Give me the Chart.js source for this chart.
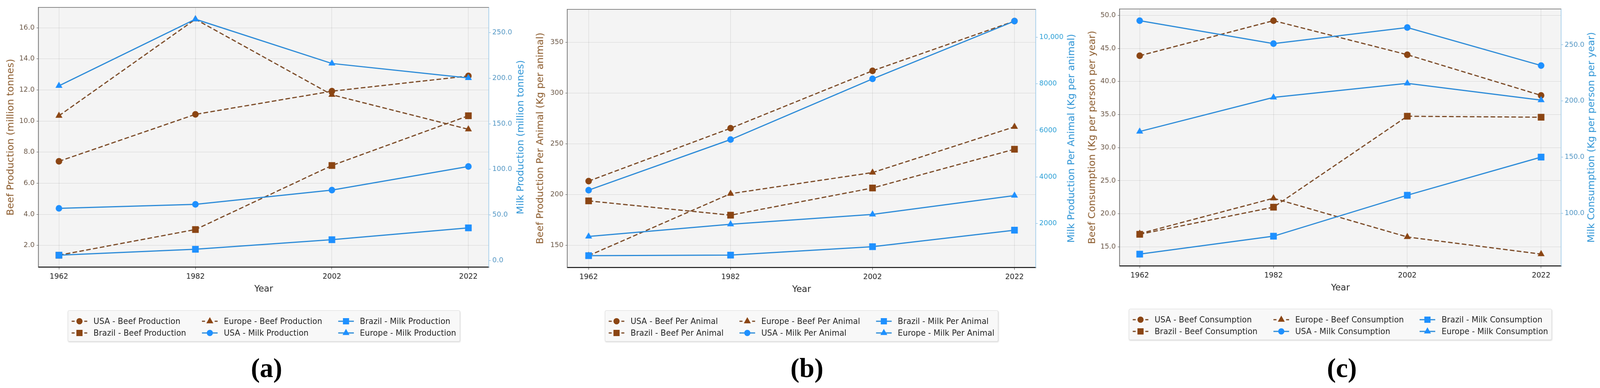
<!DOCTYPE html>
<html>

<head>
    <meta charset="utf-8">
    <title>Beef and milk: production, per animal, consumption</title>
    <script src="https://cdn.jsdelivr.net/npm/chart.js"></script>
    <style>
        html, body { margin: 0; overflow: hidden; background: #fff; font-family: "DejaVu Sans", sans-serif; }
        #page { position: absolute; left: 0; top: 0; width: 4160px; height: 994px; transform-origin: 0 0; }
        canvas { position: absolute; top: 0; }
        .legend {
            position: absolute; display: grid; grid-auto-flow: column;
            grid-template-rows: 30px 30px; column-gap: 41px;
            padding: 12px 9px 6px 9px; background: #f8f8f8;
            border: 1px solid #d9d9d9; border-radius: 4px;
            box-shadow: 1px 2px 3px rgba(0, 0, 0, 0.13);
            transform: translateX(-50%); font-size: 20.6px; color: #262626;
        }
        .item { display: flex; align-items: center; height: 30px; white-space: nowrap; }
        .item svg { margin-right: 16px; flex: none; }
        .cap { position: absolute; top: 903px; height: 70px; line-height: 70px; font: bold 70px "Liberation Serif", serif; color: #000; transform: translateX(-50%); }
    </style>
</head>

<body>
    <div id="page">
        <canvas id="chartA" width="1380" height="760" style="left:0px"></canvas>
        <canvas id="chartB" width="1435" height="760" style="left:1380px"></canvas>
        <canvas id="chartC" width="1345" height="760" style="left:2815px"></canvas>

        <div class="legend" id="legendA" style="left:686px; top:795px"></div>
        <div class="legend" id="legendB" style="left:2084px; top:795px"></div>
        <div class="legend" id="legendC" style="left:3485px; top:791px"></div>

        <div class="cap" style="left:693px">(a)</div>
        <div class="cap" style="left:2098px">(b)</div>
        <div class="cap" style="left:3489px">(c)</div>
    </div>

    <script type="text/javascript">
        const years = [1962, 1982, 2002, 2022];

        // (a) production, beef in million tonnes (left), milk in million tonnes (right)
        const usaBeefProduction = [7.41, 10.43, 11.92, 12.90];
        const brazilBeefProduction = [1.37, 3.02, 7.14, 10.34];
        const europeBeefProduction = [10.34, 16.55, 11.69, 9.47];
        const usaMilkProduction = [57.1, 61.5, 77.2, 103.1];
        const brazilMilkProduction = [5.7, 12.2, 22.7, 35.7];
        const europeMilkProduction = [191.7, 264.8, 216.2, 200.3];
        const productionBeefTicks = [2, 4, 6, 8, 10, 12, 14, 16];
        const productionMilkTicks = [0, 50, 100, 150, 200, 250];

        // (b) per animal, beef kg (left), milk kg (right)
        const usaBeefPerAnimal = [213.3, 265.4, 322.0, 371.0];
        const brazilBeefPerAnimal = [193.8, 179.7, 206.5, 244.7];
        const europeBeefPerAnimal = [139.8, 200.9, 221.7, 266.8];
        const usaMilkPerAnimal = [3427, 5603, 8211, 10696];
        const brazilMilkPerAnimal = [611, 634, 997, 1707];
        const europeMilkPerAnimal = [1437, 1961, 2386, 3196];
        const perAnimalBeefTicks = [150, 200, 250, 300, 350];
        const perAnimalMilkTicks = [2000, 4000, 6000, 8000, 10000];

        // (c) consumption, kg per person per year
        const usaBeefConsumption = [43.9, 49.2, 44.05, 37.9];
        const brazilBeefConsumption = [16.9, 21.0, 34.75, 34.6];
        const europeBeefConsumption = [17.0, 22.35, 16.5, 13.9];
        const usaMilkConsumption = [271.6, 251.1, 265.5, 231.6];
        const brazilMilkConsumption = [63.5, 79.5, 116.0, 150.0];
        const europeMilkConsumption = [172.8, 203.2, 215.7, 200.8];
        const consumptionBeefTicks = [15, 20, 25, 30, 35, 40, 45, 50];
        const consumptionMilkTicks = [100, 150, 200, 250];

        const BROWN = '#8B4513';
        const BROWN_LINE = '#7b4a26';
        const BLUE = '#1E90FF';
        const BLUE_LINE = '#2c8bd8';
        const RADIUS = { circle: 8.5, rect: 12.2, triangle: 10.5 };
        const CANVAS_H = 760;

        // the page is laid out at 4160x994; fit it to whatever the viewport really is
        document.getElementById('page').style.transform =
            `scale(${window.innerWidth / 4160}, ${window.innerHeight / 994})`;

        Chart.defaults.font.family = '"DejaVu Sans", sans-serif';

        function series(label, values, kind, marker) {
            const beef = kind === 'beef';
            return {
                label: label,
                kind: kind,
                marker: marker,
                data: years.map((x, i) => ({ x: x, y: values[i] })),
                yAxisID: beef ? 'y' : 'y2',
                order: beef ? 1 : 0,
                borderColor: beef ? BROWN_LINE : BLUE_LINE,
                borderWidth: 3,
                borderDash: beef ? [12, 6] : [],
                pointStyle: marker,
                pointRadius: RADIUS[marker],
                pointHoverRadius: RADIUS[marker],
                pointBackgroundColor: beef ? BROWN : BLUE,
                pointBorderWidth: 0,
                tension: 0,
                fill: false,
                clip: false
            };
        }

        // matplotlib-style auto limits: data range plus 5% each side
        function padded(lists) {
            const all = lists.flat();
            const lo = Math.min(...all), hi = Math.max(...all);
            const m = (hi - lo) * 0.05;
            return { min: lo - m, max: hi + m };
        }

        const frame = {
            id: 'frame',
            beforeDraw(chart) {
                const { ctx, chartArea: a } = chart;
                ctx.save();
                ctx.fillStyle = '#f4f4f4';
                ctx.fillRect(a.left, a.top, a.right - a.left, a.bottom - a.top);
                ctx.restore();
            },
            afterDraw(chart, args, o) {
                const { ctx, chartArea: a } = chart;
                ctx.save();
                ctx.strokeStyle = '#8a8a8a';
                ctx.lineWidth = 2;
                ctx.beginPath();
                ctx.moveTo(a.left, a.top);
                ctx.lineTo(a.right, a.top);
                ctx.stroke();

                const midY = (a.top + a.bottom) / 2;
                ctx.textAlign = 'center';
                ctx.textBaseline = 'middle';
                ctx.font = '25px "DejaVu Sans"';

                ctx.save();
                ctx.fillStyle = '#8b5a2b';
                ctx.translate(a.left - o.leftOff, midY);
                ctx.rotate(-Math.PI / 2);
                ctx.fillText(o.left, 0, 0);
                ctx.restore();

                ctx.save();
                ctx.fillStyle = '#2f95d6';
                ctx.translate(a.right + o.rightOff, midY);
                ctx.rotate(-Math.PI / 2);
                ctx.fillText(o.right, 0, 0);
                ctx.restore();

                ctx.font = '23px "DejaVu Sans"';
                ctx.fillStyle = '#262626';
                ctx.fillText('Year', (a.left + a.right) / 2, a.bottom + 57);
                ctx.restore();
            }
        };

        function legendIcon(kind, marker) {
            const fillC = kind === 'beef' ? BROWN : BLUE;
            const lineC = kind === 'beef' ? BROWN_LINE : BLUE_LINE;
            const line = kind === 'beef'
                ? `<line x1="0" y1="15" x2="8" y2="15" stroke="${lineC}" stroke-width="3"/><line x1="33" y1="15" x2="41" y2="15" stroke="${lineC}" stroke-width="3"/>`
                : `<line x1="0" y1="15" x2="41" y2="15" stroke="${lineC}" stroke-width="3"/>`;
            let m;
            if (marker === 'circle') m = '<circle cx="20.5" cy="15" r="8"/>';
            else if (marker === 'rect') m = '<rect x="12.5" y="7" width="16" height="16"/>';
            else m = '<polygon points="20.5,4.5 29.6,20.25 11.4,20.25"/>';
            return `<svg width="41" height="30">${line}<g fill="${fillC}">${m}</g></svg>`;
        }

        function makePanel(p) {
            const beefLists = p.datasets.filter(d => d.kind === 'beef').map(d => d.data.map(pt => pt.y));
            const milkLists = p.datasets.filter(d => d.kind === 'milk').map(d => d.data.map(pt => pt.y));
            const yl = padded(beefLists), yr = padded(milkLists);

            const chart = new Chart(document.getElementById(p.canvas), {
                type: 'line',
                data: { datasets: p.datasets },
                plugins: [frame],
                options: {
                    responsive: false,
                    animation: false,
                    devicePixelRatio: 1,
                    layout: { padding: { top: p.top, left: 0, right: 0, bottom: 0 } },
                    plugins: {
                        legend: { display: false },
                        tooltip: { enabled: false },
                        frame: { left: p.leftTitle, right: p.rightTitle, leftOff: p.leftOff, rightOff: p.rightOff }
                    },
                    scales: {
                        x: {
                            type: 'linear',
                            min: 1959, max: 2025,
                            afterBuildTicks: s => { s.ticks = years.map(v => ({ value: v })); },
                            afterFit: s => { s.height = CANVAS_H - p.bottom; },
                            ticks: { callback: v => String(v), color: '#1a1a1a', font: { size: 19 }, padding: 8, maxRotation: 0 },
                            grid: { color: 'rgba(0,0,0,0.13)', lineWidth: 1, tickLength: 6, tickColor: '#222' },
                            border: { color: '#111', width: 2.5 }
                        },
                        y: {
                            position: 'left',
                            min: yl.min, max: yl.max,
                            afterBuildTicks: s => { s.ticks = p.leftTicks.map(v => ({ value: v })); },
                            afterFit: s => { s.width = p.leftW; },
                            ticks: { callback: p.leftFmt, color: '#6b5848', font: { size: 18 }, padding: 5 },
                            grid: { color: 'rgba(0,0,0,0.12)', lineWidth: 1, tickLength: 5, tickColor: '#555' },
                            border: { color: '#4a4a4a', width: 1.5 }
                        },
                        y2: {
                            position: 'right',
                            min: yr.min, max: yr.max,
                            afterBuildTicks: s => { s.ticks = p.rightTicks.map(v => ({ value: v })); },
                            afterFit: s => { s.width = p.rightW; },
                            ticks: { callback: p.rightFmt, color: p.rightTickColor, font: { size: 18 }, padding: 4 },
                            grid: { drawOnChartArea: false, tickLength: 5, tickColor: '#6aaedc' },
                            border: { color: '#8cc2e6', width: 1.5 }
                        }
                    }
                }
            });

            const box = document.getElementById(p.legend);
            box.innerHTML = chart.data.datasets.map(d =>
                '<div class="item">' + legendIcon(d.kind, d.marker) + '<span>' + d.label + '</span></div>'
            ).join('');
            return chart;
        }

        const oneDecimal = v => v.toFixed(1);

        makePanel({
            canvas: 'chartA', legend: 'legendA',
            top: 19, bottom: 684, leftW: 100, rightW: 109, leftOff: 72, rightOff: 83,
            leftTitle: 'Beef Production (million tonnes)',
            rightTitle: 'Milk Production (million tonnes)',
            leftTicks: productionBeefTicks, rightTicks: productionMilkTicks,
            leftFmt: oneDecimal, rightFmt: oneDecimal, rightTickColor: '#5296c4',
            datasets: [
                series('USA - Beef Production', usaBeefProduction, 'beef', 'circle'),
                series('Brazil - Beef Production', brazilBeefProduction, 'beef', 'rect'),
                series('Europe - Beef Production', europeBeefProduction, 'beef', 'triangle'),
                series('USA - Milk Production', usaMilkProduction, 'milk', 'circle'),
                series('Brazil - Milk Production', brazilMilkProduction, 'milk', 'rect'),
                series('Europe - Milk Production', europeMilkProduction, 'milk', 'triangle')
            ]
        });

        makePanel({
            canvas: 'chartB', legend: 'legendB',
            top: 24, bottom: 685, leftW: 95, rightW: 122, leftOff: 70, rightOff: 93,
            leftTitle: 'Beef Production Per Animal (Kg per animal)',
            rightTitle: 'Milk Production Per Animal (Kg per animal)',
            leftTicks: perAnimalBeefTicks, rightTicks: perAnimalMilkTicks,
            leftFmt: v => String(v),
            rightFmt: v => v >= 10000 ? v.toLocaleString('en-US') : String(v),
            rightTickColor: '#2a9fd6',
            datasets: [
                series('USA - Beef Per Animal', usaBeefPerAnimal, 'beef', 'circle'),
                series('Brazil - Beef Per Animal', brazilBeefPerAnimal, 'beef', 'rect'),
                series('Europe - Beef Per Animal', europeBeefPerAnimal, 'beef', 'triangle'),
                series('USA - Milk Per Animal', usaMilkPerAnimal, 'milk', 'circle'),
                series('Brazil - Milk Per Animal', brazilMilkPerAnimal, 'milk', 'rect'),
                series('Europe - Milk Per Animal', europeMilkPerAnimal, 'milk', 'triangle')
            ]
        });

        makePanel({
            canvas: 'chartC', legend: 'legendC',
            top: 23, bottom: 681, leftW: 96, rightW: 101, leftOff: 71, rightOff: 79,
            leftTitle: 'Beef Consumption (Kg per person per year)',
            rightTitle: 'Milk Consumption (Kg per person per year)',
            leftTicks: consumptionBeefTicks, rightTicks: consumptionMilkTicks,
            leftFmt: oneDecimal, rightFmt: oneDecimal, rightTickColor: '#5296c4',
            datasets: [
                series('USA - Beef Consumption', usaBeefConsumption, 'beef', 'circle'),
                series('Brazil - Beef Consumption', brazilBeefConsumption, 'beef', 'rect'),
                series('Europe - Beef Consumption', europeBeefConsumption, 'beef', 'triangle'),
                series('USA - Milk Consumption', usaMilkConsumption, 'milk', 'circle'),
                series('Brazil - Milk Consumption', brazilMilkConsumption, 'milk', 'rect'),
                series('Europe - Milk Consumption', europeMilkConsumption, 'milk', 'triangle')
            ]
        });
    </script>
</body>

</html>
